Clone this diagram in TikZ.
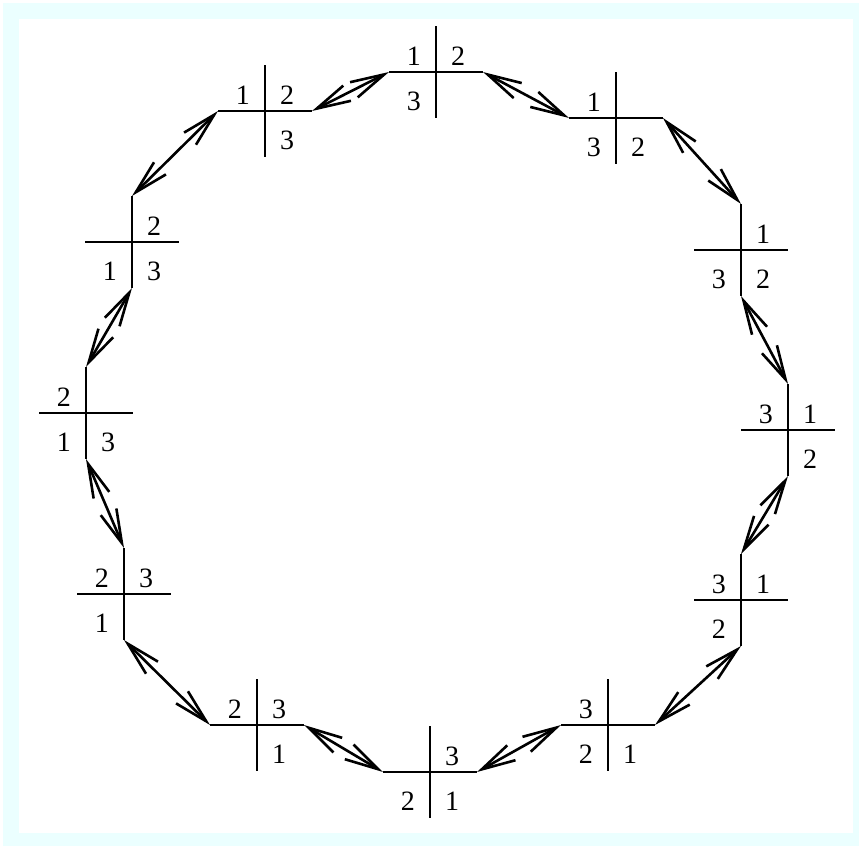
\documentclass[tikz,border=0pt]{standalone}
\usepackage{fontspec}
\setmainfont{Liberation Serif}
\usepackage{xcolor}
\definecolor{framecyan}{RGB}{235,255,255}
\usetikzlibrary{positioning,arrows.meta}

% a quadrant digit, left out when empty
\newcommand{\qnum}[3]{\if\relax\detokenize{#3}\relax\else\node[num,#1] (#2) {#3};\fi}
% one cross: name, centre, digits upper left, upper right, lower left, lower right
\newcommand{\quadcross}[6]{%
  \coordinate (#1) at (#2);
  \path (#1) ++(-47,0) coordinate (#1-w) (#1) ++(47,0) coordinate (#1-e)
        (#1) ++(0,-46) coordinate (#1-n) (#1) ++(0,46) coordinate (#1-s);
  \draw[arm] (#1-w) -- (#1-e) (#1-n) -- (#1-s);
  \qnum{above left=6pt and 15pt of #1}{#1-ul}{#3}
  \qnum{above right=6pt and 15pt of #1}{#1-ur}{#4}
  \qnum{below left=20pt and 15pt of #1}{#1-ll}{#5}
  \qnum{below right=20pt and 15pt of #1}{#1-lr}{#6}
}

\begin{document}
\begin{tikzpicture}[
  x=1pt, y=-1pt,
  font=\fontsize{28pt}{32pt}\selectfont,
  arm/.style={line width=2.6pt},
  num/.style={inner sep=0pt},
  link/.style={line width=2.6pt,
    {Straight Barb[length=34pt,width=17pt]}-{Straight Barb[length=34pt,width=17pt]}},
]
\useasboundingbox (0,0) rectangle (859,846);
\fill[framecyan] (3,3) rectangle (859,846);
\fill[white] (19,19) rectangle (853,833);

\quadcross{c1}{436,72}{1}{2}{3}{}
\quadcross{c2}{265,111}{1}{2}{}{3}
\quadcross{c3}{616,118}{1}{}{3}{2}
\quadcross{c4}{132,242}{}{2}{1}{3}
\quadcross{c5}{86,413}{2}{}{1}{3}
\quadcross{c6}{124,594}{2}{3}{1}{}
\quadcross{c7}{257,725}{2}{3}{}{1}
\quadcross{c8}{430,772}{}{3}{2}{1}
\quadcross{c9}{608,725}{3}{}{2}{1}
\quadcross{c10}{741,600}{3}{1}{2}{}
\quadcross{c11}{788,430}{3}{1}{}{2}
\quadcross{c12}{741,250}{}{1}{3}{2}

% moves between neighbouring crosses
\draw[link] (c1-w) -- (c2-e);
\draw[link] (c2-w) -- (c4-n);
\draw[link] (c4-s) -- (c5-n);
\draw[link] (c5-s) -- (c6-n);
\draw[link] (c6-s) -- (c7-w);
\draw[link] (c7-e) -- (c8-w);
\draw[link] (c8-e) -- (c9-w);
\draw[link] (c9-e) -- (c10-s);
\draw[link] (c10-n) -- (c11-s);
\draw[link] (c11-n) -- (c12-s);
\draw[link] (c12-n) -- (c3-e);
\draw[link] (c3-w) -- (c1-e);
\end{tikzpicture}
\end{document}
